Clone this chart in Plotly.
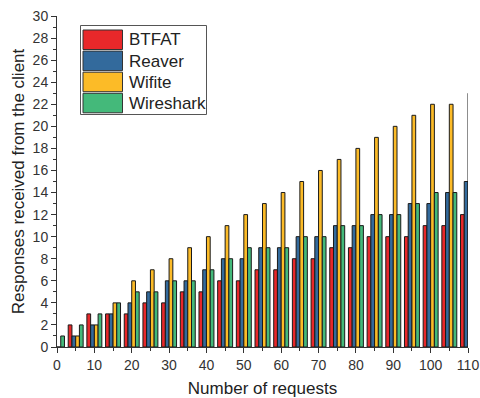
import plotly.graph_objects as go

requests = [0, 5, 10, 15, 20, 25, 30, 35, 40, 45, 50, 55, 60, 65, 70, 75, 80, 85, 90, 95, 100, 105, 110]
btfat = [0, 2, 3, 3, 3, 4, 4, 5, 5, 6, 6, 7, 7, 8, 8, 9, 9, 10, 10, 10, 11, 11, 12]
reaver = [0, 1, 2, 3, 4, 5, 6, 6, 7, 8, 8, 9, 9, 10, 10, 11, 11, 12, 12, 13, 13, 14, 15]
wifite = [0, 1, 2, 4, 6, 7, 8, 9, 10, 11, 12, 13, 14, 15, 16, 17, 18, 19, 20, 21, 22, 22, 23]
wireshark = [1, 2, 3, 4, 5, 5, 6, 6, 7, 8, 9, 9, 9, 10, 10, 11, 11, 12, 12, 13, 14, 14, 14]

names = ["BTFAT", "Reaver", "Wifite", "Wireshark"]
colors = ["#E8282A", "#336A9C", "#FCBB27", "#44B97A"]
values = [btfat, reaver, wifite, wireshark]

W, H = 480, 398
ML, MR, MT, MB = 57, 12, 16, 51
PW, PH = W - ML - MR, H - MT - MB

def px_x(p):
    return (p - ML) / PW

def px_y(p):
    return (H - MB - p) / PH

fig = go.Figure()
for name, vals, color in zip(names, values, colors):
    fig.add_trace(go.Bar(
        x=requests, y=vals, name=name,
        marker=dict(color=color, line=dict(color="#1a1a1a", width=1)),
    ))

font_family = "Liberation Sans, Arial, sans-serif"

# custom legend (large swatches as in the reference)
shapes = [dict(type="rect", xref="paper", yref="paper",
               x0=px_x(80.5), x1=px_x(206.5), y0=px_y(114.5), y1=px_y(25.5),
               line=dict(color="#555555", width=1), fillcolor="white", layer="above")]
annotations = []
for i, (name, color) in enumerate(zip(names, colors)):
    top = 30 + i * 21.1
    shapes.append(dict(type="rect", xref="paper", yref="paper",
                       x0=px_x(83), x1=px_x(122.5), y0=px_y(top + 19.5), y1=px_y(top),
                       line=dict(color="#333333", width=1), fillcolor=color, layer="above"))
    annotations.append(dict(xref="paper", yref="paper", x=px_x(127), y=px_y(top + 10),
                            xanchor="left", yanchor="middle", showarrow=False, text=name,
                            font=dict(size=17, color="#222222", family=font_family)))

fig.update_layout(
    width=W, height=H,
    margin=dict(l=ML, r=MR, t=MT, b=MB),
    paper_bgcolor="white", plot_bgcolor="white",
    barmode="group", bargap=0.2, bargroupgap=0,
    font=dict(family=font_family, color="#333333", size=14),
    showlegend=False,
    shapes=shapes, annotations=annotations,
)
fig.update_xaxes(
    range=[0, 110], tickmode="linear", tick0=0, dtick=10,
    ticks="outside", ticklen=5, tickwidth=1, tickcolor="#333333",
    minor=dict(ticks="outside", ticklen=3, dtick=5, tickcolor="#333333"),
    showline=True, linecolor="#333333", linewidth=1,
    showgrid=False, zeroline=False, automargin=False,
    title=dict(text="Number of requests", font=dict(size=17, color="#222222"), standoff=11),
    tickfont=dict(size=14, color="#333333"),
)
fig.update_yaxes(
    range=[0, 30], tickmode="linear", tick0=0, dtick=2,
    ticks="outside", ticklen=5, tickwidth=1, tickcolor="#333333",
    minor=dict(ticks="outside", ticklen=3, dtick=1, tickcolor="#333333"),
    showline=True, linecolor="#333333", linewidth=1,
    showgrid=False, zeroline=False, automargin=False,
    title=dict(text="Responses received from the client", font=dict(size=17, color="#222222"), standoff=3),
    tickfont=dict(size=14, color="#333333"),
)

fig.write_html("out.html")
